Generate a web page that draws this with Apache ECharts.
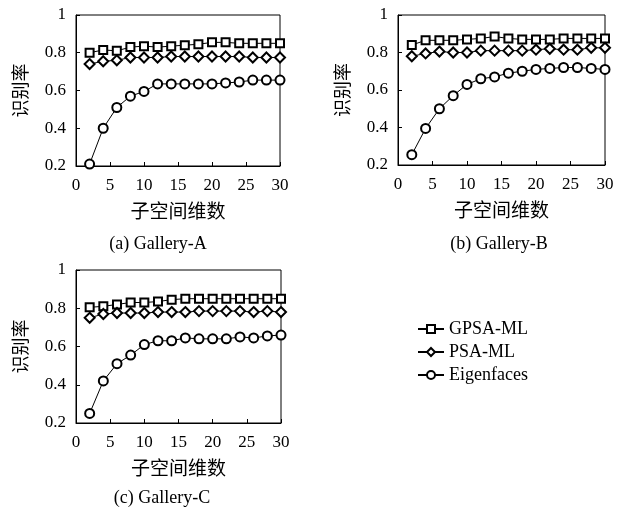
<!DOCTYPE html>
<html><head><meta charset="utf-8">
<script src="https://cdn.jsdelivr.net/npm/echarts@6/dist/echarts.min.js"></script>
<style>html,body{margin:0;padding:0;background:#fff}#c{width:623px;height:510px}</style>
</head><body><div id="c"></div>
<script>
const dims = [2,4,6,8,10,12,14,16,18,20,22,24,26,28,30];
const seriesNames = ['GPSA-ML','PSA-ML','Eigenfaces'];
const panelTitles = ['(a) Gallery-A','(b) Gallery-B','(c) Gallery-C'];
const yTicks = [0.2,0.4,0.6,0.8,1];
const xTicks = [0,5,10,15,20,25,30];

const gpsaA = [0.80,0.815,0.81,0.83,0.835,0.83,0.835,0.84,0.845,0.855,0.855,0.85,0.85,0.85,0.85];
const psaA  = [0.74,0.755,0.76,0.775,0.775,0.775,0.78,0.78,0.78,0.78,0.78,0.78,0.775,0.775,0.775];
const eigA  = [0.21,0.40,0.51,0.57,0.595,0.635,0.635,0.635,0.635,0.635,0.64,0.645,0.655,0.655,0.655];

const gpsaB = [0.84,0.865,0.865,0.865,0.87,0.875,0.885,0.875,0.87,0.87,0.87,0.875,0.875,0.875,0.875];
const psaB  = [0.78,0.795,0.805,0.80,0.80,0.81,0.81,0.81,0.81,0.815,0.82,0.815,0.815,0.825,0.825];
const eigB  = [0.255,0.395,0.50,0.57,0.63,0.66,0.67,0.69,0.70,0.71,0.715,0.72,0.72,0.715,0.71];

const gpsaC = [0.805,0.81,0.82,0.83,0.83,0.835,0.845,0.85,0.85,0.85,0.85,0.85,0.85,0.85,0.85];
const psaC  = [0.75,0.77,0.775,0.775,0.775,0.78,0.78,0.78,0.785,0.785,0.785,0.785,0.78,0.785,0.78];
const eigC  = [0.25,0.42,0.51,0.555,0.61,0.63,0.63,0.645,0.64,0.64,0.64,0.65,0.645,0.655,0.66];

const panels = [[gpsaA,psaA,eigA],[gpsaB,psaB,eigB],[gpsaC,psaC,eigC]];
const symbols = ['emptyRect','emptyDiamond','emptyCircle'];
const symbolSizes = [8,10,9];

const serif = 'Liberation Serif';
const cjk = 'Noto Sans CJK SC';

const grids = [
  {left:76, top:15, width:204, height:151},
  {left:398, top:15, width:207, height:150},
  {left:76, top:270, width:205, height:153}
];
const titlePos = [[153,230],[494,230],[157,484]];

const option = {
  backgroundColor:'#fff',
  animation:false,
  title: panelTitles.map((t,i)=>({
    text:t, left:titlePos[i][0], top:titlePos[i][1], textAlign:'center',
    textStyle:{fontFamily:serif, fontSize:18, fontWeight:'normal', color:'#000'}
  })),
  legend:{
    orient:'vertical', left:412, top:315, itemGap:5, itemWidth:26, itemHeight:10,
    data:seriesNames,
    textStyle:{fontFamily:serif, fontSize:18, color:'#000'}
  },
  grid: grids.map(g=>Object.assign({show:true, borderColor:'#000', borderWidth:1, containLabel:false}, g)),
  xAxis: grids.map((g,i)=>({
    type:'value', gridIndex:i, min:0, max:30, interval:5,
    name:'子空间维数', nameLocation:'middle', nameGap:35,
    nameTextStyle:{fontFamily:cjk, fontSize:19, color:'#000'},
    axisLine:{lineStyle:{color:'#000', width:1}},
    axisTick:{inside:true, length:4, lineStyle:{color:'#000'}},
    axisLabel:{fontFamily:serif, fontSize:17, color:'#000', margin:11},
    splitLine:{show:false}
  })),
  yAxis: grids.map((g,i)=>({
    type:'value', gridIndex:i, min:0.2, max:1, interval:0.2,
    name:'识别率', nameLocation:'middle', nameGap:47, nameRotate:90,
    nameTextStyle:{fontFamily:cjk, fontSize:18, color:'#000'},
    axisLine:{lineStyle:{color:'#000', width:1}},
    axisTick:{inside:true, length:4, lineStyle:{color:'#000'}},
    axisLabel:{fontFamily:serif, fontSize:17, color:'#000', margin:10,
      formatter:v=> Math.abs(v-1)<1e-9 ? '1' : v.toFixed(1)},
    splitLine:{show:false}
  })),
  series: []
};
panels.forEach((p,pi)=>{
  p.forEach((vals,si)=>{
    option.series.push({
      name:seriesNames[si], type:'line', xAxisIndex:pi, yAxisIndex:pi,
      data: dims.map((d,k)=>[d, vals[k]]),
      symbol:symbols[si], symbolSize:symbolSizes[si],
      lineStyle:{color:'#000', width:1},
      itemStyle:{color:'#000', borderColor:'#000', borderWidth:0.8},
      emphasis:{disabled:true}
    });
  });
});
const chart = echarts.init(document.getElementById('c'));
chart.setOption(option);
</script></body></html>
